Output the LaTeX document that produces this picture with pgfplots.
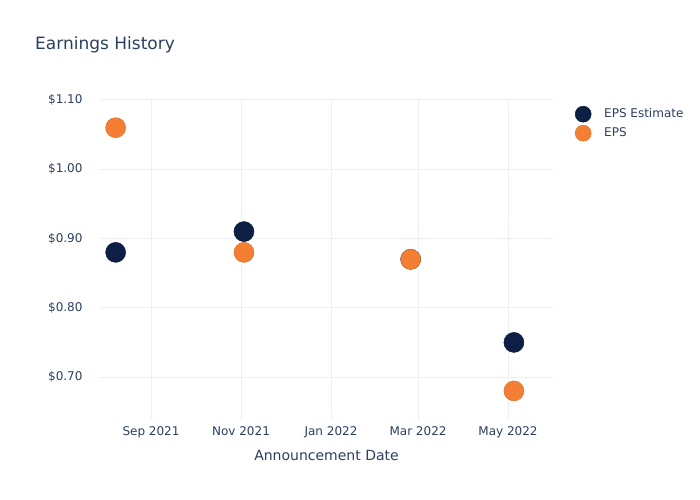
\documentclass[border=0pt]{standalone}
\usepackage{fontspec}
\setmainfont{DejaVu Sans}
\usepackage{pgfplots}
\pgfplotsset{compat=1.18}
\definecolor{navy}{HTML}{0D1F44}
\definecolor{orng}{HTML}{F47F34}
\definecolor{txt}{HTML}{2A3F5F}
\definecolor{grd}{HTML}{EBF0F8}
\begin{document}
\begin{tikzpicture}[x=1bp,y=1bp]
\path (0,0) rectangle (700,500);
\node[anchor=base west, font=\fontsize{17bp}{20bp}\selectfont, text=txt, inner sep=0] at (35,450) {Earnings History};
\begin{axis}[
  at={(100bp,80bp)}, anchor=south west,
  scale only axis, width=453bp, height=320bp,
  xmin=-34.6, xmax=272.5, ymin=0.638, ymax=1.10,
  xtick={0,61,122,181,242},
  xticklabels={Sep 2021,Nov 2021,Jan 2022,Mar 2022,May 2022},
  ytick={0.7,0.8,0.9,1.0,1.1},
  yticklabels={\$0.70,\$0.80,\$0.90,\$1.00,\$1.10},
  grid=major, major grid style={grd, line width=1bp},
  axis line style={draw=none},
  major tick length=0,
  tick label style={font=\fontsize{12bp}{14bp}\selectfont, text=txt},
  /pgf/number format/assume math mode=true,
  xticklabel style={yshift=-3bp},
  yticklabel style={xshift=-14bp},
  xlabel={Announcement Date},
  xlabel style={font=\fontsize{14bp}{16bp}\selectfont, text=txt, yshift=-6bp},
  legend style={at={(1.0,1.0)}, anchor=north west, draw=none, fill=none,
    xshift=19bp, yshift=-4bp,
    font=\fontsize{12bp}{14bp}\selectfont, text=txt, row sep=3bp,
    legend cell align=left},
  legend image code/.code={\path[draw=none,fill=none] (0bp,0bp) -- (19bp,0bp); \draw[#1, mark size=8bp] plot coordinates {(0bp,0bp)};},
  clip=false,
]
\addplot[only marks, mark=*, mark size=10bp, color=navy, mark options={fill=navy, draw=navy!90!black, line width=0.5bp}]
  coordinates {(-24,0.88) (63,0.91) (176,0.87) (246,0.75)};
\addlegendentry{EPS Estimate}
\addplot[only marks, mark=*, mark size=10bp, color=orng, mark options={fill=orng, draw=orng!90!black, line width=0.5bp}]
  coordinates {(-24,1.06) (63,0.88) (176,0.87) (246,0.68)};
\addlegendentry{EPS}
\end{axis}
\end{tikzpicture}
\end{document}
